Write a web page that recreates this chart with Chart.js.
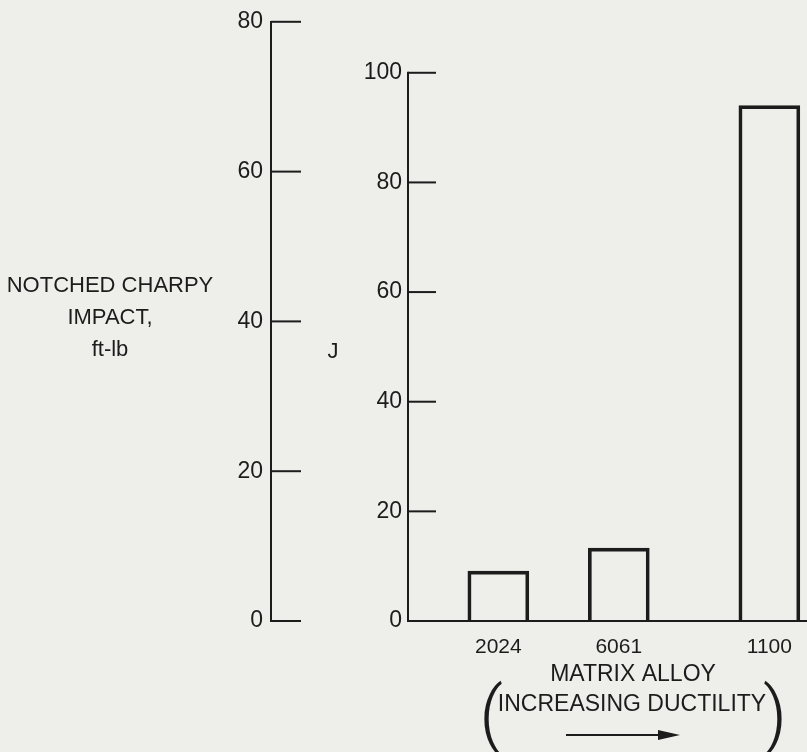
<!DOCTYPE html>
<html>
<head>
<meta charset="utf-8">
<script src="https://cdn.jsdelivr.net/npm/chart.js@4.4.1/dist/chart.umd.min.js"></script>
<style>
  html, body { margin: 0; padding: 0; background: #eeeeeb; }
  #wrap { width: 807px; height: 752px; position: relative; }
</style>
</head>
<body>
<div id="wrap"><canvas id="chart"></canvas></div>
<script>
// ── data ──
const alloys = ['2024', '6061', '1100'];
const impactJ = [9.1, 13.3, 94.0];
const jTicks = [0, 20, 40, 60, 80, 100];
const ftLbTicks = [0, 20, 40, 60, 80];
const leftTitle = ['NOTCHED CHARPY', 'IMPACT,', 'ft-lb'];
const rightTitle = 'J';
const xTitle = 'MATRIX ALLOY';
const xSubtitle = 'INCREASING DUCTILITY';

// ── layout ──
const SLOT = [3, 7, 12];      // uneven spacing of the bars along x
const SLOT_MAX = 13.25;
const J_MAX = 109.3;          // J axis shares the plot height with 0-80 ft-lb
const INK = '#1c1c1c';
const FONT = "'Liberation Sans', Arial, sans-serif";

function line(ctx, x1, y1, x2, y2) {
  ctx.beginPath(); ctx.moveTo(x1, y1); ctx.lineTo(x2, y2); ctx.stroke();
}

// inward tick marks, J spine, free-standing titles
const decor = {
  id: 'decor',
  afterDraw(chart) {
    const { ctx, chartArea } = chart;
    const yJ = chart.scales.y, yF = chart.scales.yFt;
    ctx.save();
    ctx.strokeStyle = INK;
    ctx.lineWidth = 2;
    line(ctx, yJ.right, yJ.getPixelForValue(0) + 1, yJ.right, yJ.getPixelForValue(100) - 1);
    yJ.ticks.forEach(t => {
      const p = yJ.getPixelForValue(t.value);
      line(ctx, yJ.right, p, yJ.right + 28, p);
    });
    yF.ticks.forEach(t => {
      const p = yF.getPixelForValue(t.value);
      line(ctx, yF.right, p, yF.right + 30, p);
    });

    ctx.fillStyle = INK;
    ctx.textAlign = 'center';
    ctx.textBaseline = 'middle';
    ctx.font = '22px ' + FONT;
    leftTitle.forEach((s, i) => ctx.fillText(s, 110, 286 + i * 32));
    ctx.fillText(rightTitle, yJ.left + 62, 352);

    const cx = chartArea.left + 224;
    ctx.font = '23px ' + FONT;
    ctx.fillText(xTitle, cx + 1, chartArea.bottom + 54);
    ctx.fillText(xSubtitle, cx, chartArea.bottom + 84);
    ctx.font = '300 74px Roboto, ' + FONT;
    ctx.fillText('(', cx - 141, chartArea.bottom + 100);
    ctx.fillText(')', cx + 143, chartArea.bottom + 100);

    // arrow under the subtitle
    const ay = chartArea.bottom + 114;
    ctx.lineWidth = 2;
    line(ctx, cx - 66, ay, cx + 30, ay);
    ctx.beginPath();
    ctx.moveTo(cx + 48, ay);
    ctx.lineTo(cx + 26, ay - 5);
    ctx.lineTo(cx + 26, ay + 5);
    ctx.closePath();
    ctx.fill();
    ctx.restore();
  }
};

new Chart(document.getElementById('chart'), {
  type: 'bar',
  data: {
    datasets: [{
      data: impactJ.map((v, i) => ({ x: SLOT[i], y: v })),
      backgroundColor: 'rgba(0,0,0,0)',
      borderColor: INK,
      borderWidth: 3,
      barThickness: 61,
      yAxisID: 'y',
    }],
  },
  options: {
    responsive: true,
    maintainAspectRatio: false,
    animation: false,
    layout: { padding: { top: 20, left: 0, right: 0, bottom: 0 } },
    plugins: { legend: { display: false }, tooltip: { enabled: false } },
    scales: {
      x: {
        type: 'linear',
        offset: false,
        min: 0,
        max: SLOT_MAX,
        afterBuildTicks: (axis) => { axis.ticks = SLOT.map(v => ({ value: v })); },
        afterFit: (axis) => { axis.height = 131; },
        grid: { display: false, offset: false },
        border: { display: true, color: INK, width: 2 },
        ticks: {
          color: INK,
          padding: 6,
          maxRotation: 0,
          font: { family: FONT, size: 21 },
          callback: (v) => alloys[SLOT.indexOf(v)],
        },
      },
      y: {
        position: 'left',
        weight: 0,
        min: 0,
        max: J_MAX,
        afterBuildTicks: (axis) => { axis.ticks = jTicks.map(v => ({ value: v })); },
        afterFit: (axis) => { axis.width = 137; },
        grid: { display: false, drawTicks: false },
        border: { display: false },
        ticks: { color: INK, padding: 6, font: { family: FONT, size: 23 } },
      },
      yFt: {
        position: 'left',
        weight: 1,
        min: 0,
        max: 80,
        afterBuildTicks: (axis) => { axis.ticks = ftLbTicks.map(v => ({ value: v })); },
        afterFit: (axis) => { axis.width = 271; },
        grid: { display: false, drawTicks: false },
        border: { display: true, color: INK, width: 2 },
        ticks: { color: INK, padding: 8, font: { family: FONT, size: 23 } },
      },
    },
  },
  plugins: [decor],
});
</script>
</body>
</html>
